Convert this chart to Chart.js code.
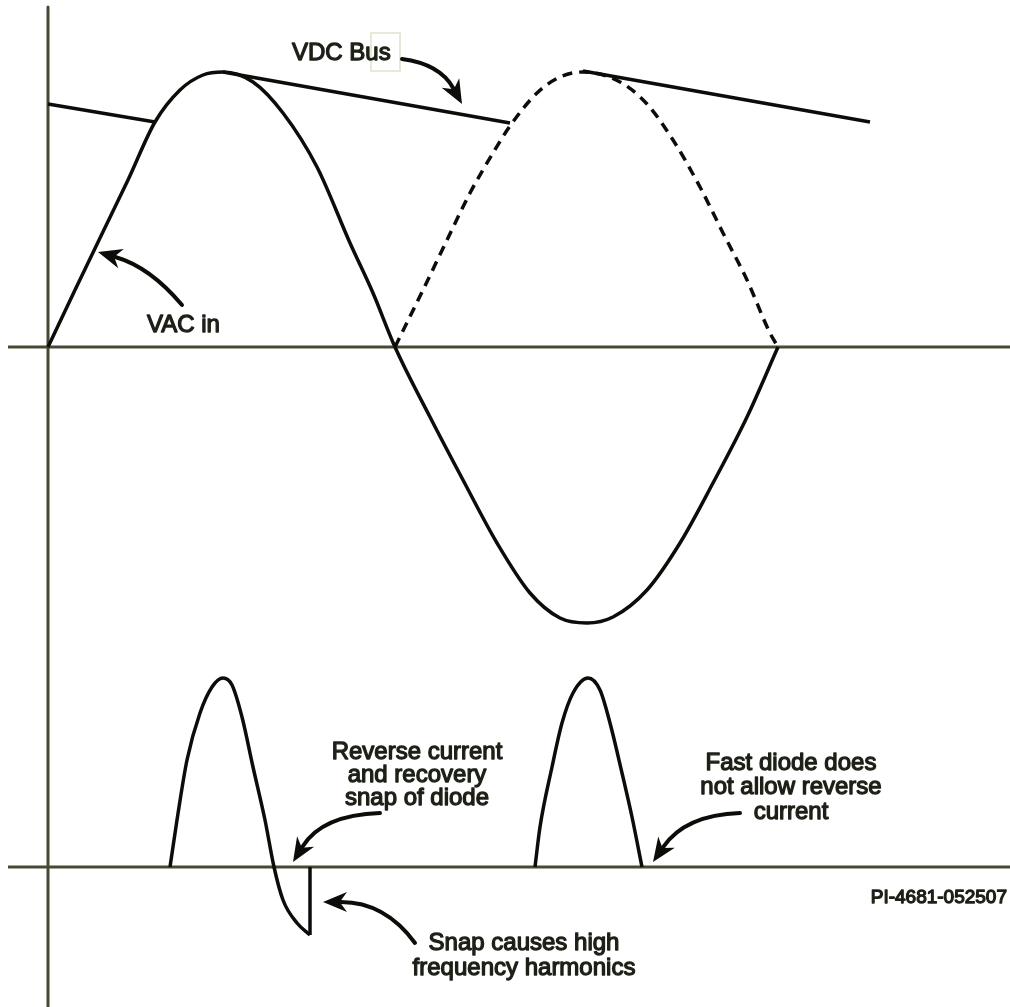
<!DOCTYPE html>
<html>
<head>
<meta charset="utf-8">
<script src="https://cdn.jsdelivr.net/npm/chart.js@4/dist/chart.umd.min.js"></script>
<style>
  body { margin: 0; background: #fff; }
  #wrap { width: 1010px; height: 1007px; position: relative; }
</style>
</head>
<body>
<div id="wrap"><canvas id="wave"></canvas></div>
<script>
// time axis = horizontal units from the vertical axis
var vacT = [0, 27, 52, 80, 107, 132, 155, 175, 205, 235, 269, 302, 325, 347, 382, 415, 449, 482, 512, 539, 565, 599, 632, 665, 699, 730];
var vacV = [0, 57, 109, 167, 225, 257, 272, 275, 265, 234, 180, 104, 54, 0, -70, -133, -196, -246, -271, -276, -270, -243, -196, -136, -70, 0];

// rectified half (dashed)
var rectT = [347, 375, 399, 422, 445, 462, 489, 512, 535, 572, 599, 625, 652, 675, 699, 722, 730];
var rectV = [0, 57, 107, 154, 194, 221, 254, 270, 275, 265, 243, 207, 160, 114, 67, 14, 0];

// VDC bus decay segments
var busAT = [0, 107],   busAV = [243, 225];
var busBT = [175, 462], busBV = [275, 224];
var busCT = [535, 822], busCV = [276, 225];

// diode current, slow diode (with reverse recovery) and fast diode
var slowT = [122, 129, 139, 152, 164, 175, 184, 194, 205, 217, 226, 235, 249, 262];
var slowI = [0, 47, 107, 154, 180, 189, 182, 150, 100, 47, 0, -33, -56, -68];
var snapT = [262, 262], snapI = [-68, 0];
var fastT = [487, 492, 504, 514, 525, 540, 552, 562, 574, 584, 594];
var fastI = [0, 40, 100, 144, 174, 189, 177, 144, 94, 50, 0];

// axes
var axisT = [-40, 962];
var axisZero = [0, 0];
var vertT = [0, 0], vertV = [340, -660];

function pts(xs, ys) {
  return xs.map(function (x, i) { return { x: x, y: ys[i] }; });
}

var ink = '#0c0d08';
var axisCol = '#454a35';

function curve(xs, ys, axis, extra) {
  var d = {
    data: pts(xs, ys),
    yAxisID: axis,
    showLine: true,
    borderColor: ink,
    borderWidth: 3.5,
    pointRadius: 0,
    cubicInterpolationMode: 'monotone',
    borderJoinStyle: 'round',
    clip: false,
    order: 1
  };
  for (var k in extra) d[k] = extra[k];
  return d;
}

// labels and arrows (chart units, panel = which y scale)
var notes = [
  { axis: 'yV', x: 244, y: 294, align: 'left', lines: ['VDC Bus'] },
  { axis: 'yV', x: 99, y: 22, align: 'left', lines: ['VAC in'] },
  { axis: 'yI', x: 369, y: 115, align: 'center', step: 23, lines: ['Reverse current', 'and recovery', 'snap of diode'] },
  { axis: 'yI', x: 743, y: 104, align: 'center', step: 24.5, lines: ['Fast diode does', 'not allow reverse', 'current'] },
  { axis: 'yI', x: 476, y: -76, align: 'center', step: 25, lines: ['Snap causes high', 'frequency harmonics'] },
  { axis: 'yI', x: 959, y: -31, align: 'right', size: 19, lines: ['PI-4681-052507'] }
];
var arrows = [
  { axis: 'yV', from: [354, 288], ctrl: [392, 283], tip: [414, 243] },
  { axis: 'yV', from: [134, 42], ctrl: [102, 80], tip: [50, 95] },
  { axis: 'yI', from: [332, 54], ctrl: [274, 52], tip: [245, 5] },
  { axis: 'yI', from: [367, -76], ctrl: [337, -35], tip: [275, -35] },
  { axis: 'yI', from: [692, 54], ctrl: [637, 52], tip: [605, 5] }
];

var notesPlugin = {
  id: 'notes',
  afterDatasetsDraw: function (chart) {
    var ctx = chart.ctx;
    var sx = chart.scales.x;
    ctx.save();
    // faint box left behind around "us"
    var yv = chart.scales.yV;
    ctx.strokeStyle = '#e6ead6';
    ctx.lineWidth = 2;
    ctx.strokeRect(sx.getPixelForValue(323), yv.getPixelForValue(314),
      sx.getPixelForValue(352) - sx.getPixelForValue(323),
      yv.getPixelForValue(276) - yv.getPixelForValue(314));

    notes.forEach(function (n) {
      var sy = chart.scales[n.axis];
      var size = n.size || 24;
      ctx.font = size + 'px "Liberation Sans", Arial, sans-serif';
      ctx.textAlign = n.align;
      ctx.textBaseline = 'middle';
      ctx.fillStyle = '#1c2016';
      ctx.strokeStyle = '#1c2016';
      ctx.lineWidth = 1.3;
      ctx.lineJoin = 'round';
      n.lines.forEach(function (s, i) {
        var px = sx.getPixelForValue(n.x);
        var py = sy.getPixelForValue(n.y) + i * (n.step || 24);
        ctx.fillText(s, px, py);
        ctx.strokeText(s, px, py);
      });
    });

    arrows.forEach(function (a) {
      var sy = chart.scales[a.axis];
      var p0 = [sx.getPixelForValue(a.from[0]), sy.getPixelForValue(a.from[1])];
      var c = [sx.getPixelForValue(a.ctrl[0]), sy.getPixelForValue(a.ctrl[1])];
      var t = [sx.getPixelForValue(a.tip[0]), sy.getPixelForValue(a.tip[1])];
      var ang = Math.atan2(t[1] - c[1], t[0] - c[0]);
      var len = 24, half = 10;
      var bx = t[0] - Math.cos(ang) * len, by = t[1] - Math.sin(ang) * len;
      ctx.strokeStyle = ink;
      ctx.fillStyle = ink;
      ctx.lineWidth = 4;
      ctx.lineCap = 'round';
      ctx.beginPath();
      ctx.moveTo(p0[0], p0[1]);
      ctx.quadraticCurveTo(c[0], c[1], bx + Math.cos(ang) * 6, by + Math.sin(ang) * 6);
      ctx.stroke();
      ctx.beginPath();
      ctx.moveTo(t[0], t[1]);
      ctx.lineTo(bx - Math.sin(ang) * half, by + Math.cos(ang) * half);
      ctx.lineTo(t[0] - Math.cos(ang) * len * 0.7, t[1] - Math.sin(ang) * len * 0.7);
      ctx.lineTo(bx + Math.sin(ang) * half, by - Math.cos(ang) * half);
      ctx.closePath();
      ctx.fill();
    });
    ctx.restore();
  }
};

var axisStyle = { borderColor: axisCol, borderWidth: 3, cubicInterpolationMode: 'default', tension: 0, order: 5 };
var straight = { cubicInterpolationMode: 'default', tension: 0 };

new Chart(document.getElementById('wave'), {
  type: 'scatter',
  data: {
    datasets: [
      curve(axisT, axisZero, 'yV', axisStyle),
      curve(axisT, axisZero, 'yI', axisStyle),
      curve(vertT, vertV, 'yV', axisStyle),
      curve(vacT, vacV, 'yV', {}),
      curve(rectT, rectV, 'yV', { borderDash: [10, 7] }),
      curve(busAT, busAV, 'yV', straight),
      curve(busBT, busBV, 'yV', straight),
      curve(busCT, busCV, 'yV', straight),
      curve(slowT, slowI, 'yI', {}),
      curve(snapT, snapI, 'yI', straight),
      curve(fastT, fastI, 'yI', {})
    ]
  },
  options: {
    responsive: true,
    maintainAspectRatio: false,
    animation: false,
    layout: { padding: 0 },
    plugins: { legend: { display: false }, tooltip: { enabled: false } },
    scales: {
      x: { type: 'linear', min: -48, max: 962, display: false },
      yV: { type: 'linear', min: -660, max: 347, display: false },
      yI: { type: 'linear', min: -140, max: 867, display: false }
    }
  },
  plugins: [notesPlugin]
});
</script>
</body>
</html>
